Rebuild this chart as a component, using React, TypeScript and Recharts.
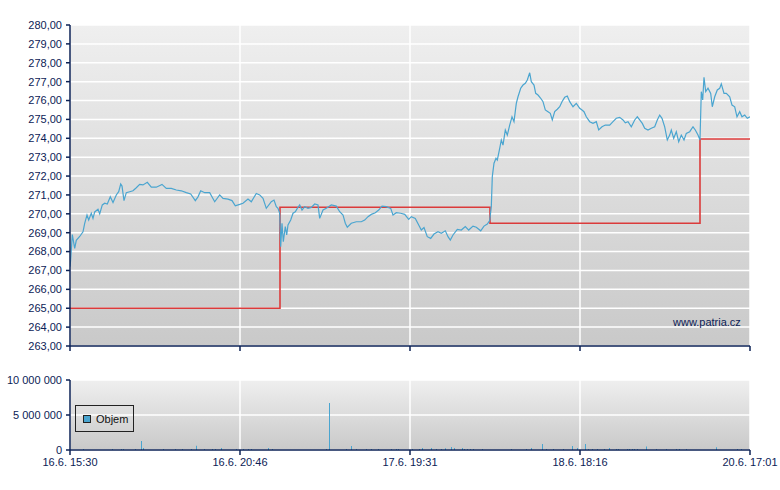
import React from 'react';
import { LineChart, Line, BarChart, Bar, XAxis, YAxis, CartesianGrid } from 'recharts';

// time position (0..680, equal spacing between labelled ticks) and price
const priceTimes = [
  0, 0.7, 2.3, 4.7, 6.3, 9.7, 13, 14.7, 17, 18.7, 21.3, 23, 24.7, 28, 29.7, 32.3, 34.7, 37.3, 40.3, 43, 46.3, 48.7, 50.7, 52, 54, 56.3, 59.7, 63, 66.3, 69.7, 73, 77.3, 81.3, 86.3, 92, 96.3, 101.3, 106.3, 111.3, 116.3, 120.7, 125.3, 128, 130.7, 134.7, 139.7, 144.7, 149.7, 153, 158, 162, 165.3, 169.7, 173,
  178, 181.3, 186.3, 189.7, 193, 196.3, 201.3, 204, 206.3, 208, 209.7, 210.7, 212, 213.3, 215.3, 216.7, 218, 220.7, 223, 225.3, 227.3, 229.7, 232, 234.7, 238, 241.3, 244.7, 248, 249.7, 253, 256.3, 261.3, 266.3, 269.7, 273, 275.3, 277.3, 281.3, 286.3, 291.3, 294.7, 298, 301.3, 305.3, 308.7, 312, 316.3, 320.7, 323, 326.3, 330.7, 334.7, 338.7, 341.3,
  345.3, 348.7, 351.3, 354, 357.3, 360.7, 364, 368, 371.3, 375.3, 378, 380.3, 383, 387.3, 391.3, 395.3, 398.7, 403, 406.3, 410.7, 414, 417.3, 419.7, 421.3, 422.3, 424, 426, 427.3, 429.7, 431.3, 433, 435.3, 437.3, 439.7, 442, 444, 446.3, 448, 450.7, 453, 455.3, 457.3, 459.7, 461.3, 464, 465.7, 468, 470.7, 473, 475.3, 478, 480.3, 482.3, 484.7, 487.3, 489.7, 492, 494.7, 497.3, 499.7, 503, 506.3, 509.7, 512,
  514, 516.3, 519.7, 523, 526.3, 528.7, 532, 535.3, 539.7, 543, 546.3, 549.7, 553, 555.3, 558, 561.3, 564.7, 567.3, 569.7, 572.3, 574.7, 578, 581.3, 584.7, 587.3, 589.7, 592, 594.7, 597.3, 599.7, 601.3, 603.7, 606.3, 608.7, 611.3, 614, 616.3, 619.7, 623, 625.3, 628, 630, 631.3, 632.7, 634, 635.7, 638, 640.7, 642.3, 644.7, 647.3, 649.7, 651.3, 654, 656.3, 659.7, 662, 664.7, 667, 669.7, 672, 674.7, 677.3, 680,
];
const priceValues = [
  267.2, 267.6, 268.9, 268.17, 268.6, 268.8, 269.05, 269.5, 269.94, 269.67, 270.03, 269.76, 270.1, 270.24, 270.0, 270.47, 270.56, 270.52, 270.9, 270.6, 271.0, 271.17, 271.58, 271.47, 270.7, 271.12, 271.17, 271.22, 271.38, 271.56, 271.53, 271.67, 271.41, 271.41, 271.56, 271.35, 271.35, 271.26, 271.22, 271.12, 271.05, 270.7, 270.9, 271.22, 271.12, 271.12, 270.64, 271.0, 270.82, 270.78, 270.7, 270.43, 270.5, 270.56,
  270.78, 270.64, 271.08, 271.0, 270.82, 270.29, 270.64, 270.73, 270.38, 270.29, 270.03, 268.26, 269.5, 268.52, 269.32, 268.88, 269.41, 269.67, 270.03, 270.11, 270.29, 270.47, 270.2, 270.38, 270.29, 270.34, 270.52, 270.47, 269.76, 270.2, 270.29, 270.47, 270.41, 270.11, 269.94, 269.5, 269.29, 269.5, 269.58, 269.58, 269.67, 269.85, 269.97, 270.06, 270.2, 270.41, 270.38, 270.29, 269.94, 270.06, 270.03, 269.97, 269.71, 269.85,
  269.76, 269.41, 269.14, 269.27, 268.79, 268.7, 268.93, 269.05, 268.97, 269.1, 268.79, 268.61, 268.88, 269.18, 269.14, 269.32, 269.14, 269.35, 269.29, 269.1, 269.35, 269.46, 269.64, 270.38, 271.97, 272.68, 272.94, 272.85, 273.47, 273.91, 273.64, 274.44, 274.17, 274.7, 275.14, 274.88, 275.85, 276.2, 276.65, 276.82, 276.91, 277.09, 277.47, 277.0, 276.82, 276.38, 276.29, 276.12, 275.94, 275.5, 275.41, 275.32, 274.97, 275.41, 275.54, 275.67, 275.94, 276.17, 276.24, 275.94, 275.67, 275.85, 275.59, 275.5,
  275.41, 275.14, 274.88, 274.79, 274.88, 274.44, 274.61, 274.7, 274.7, 274.88, 275.06, 275.11, 274.97, 274.82, 274.88, 274.61, 274.97, 275.14, 274.97, 274.79, 274.53, 274.44, 274.53, 274.61, 274.97, 275.23, 275.06, 274.61, 273.91, 274.17, 274.44, 274.0, 274.35, 273.82, 274.17, 273.91, 274.26, 274.35, 274.61, 274.44, 274.17, 273.91, 276.47, 276.03, 277.23, 276.47, 276.65, 276.38, 275.67, 276.2, 276.56, 276.65, 276.88, 276.38, 276.38, 276.2, 275.76, 275.67, 275.14, 275.41, 275.14, 275.23, 275.06, 275.14,
];

// reference price (step line)
const stepTimes = [0, 210, 420, 630, 680];
const stepValues = [265.0, 270.35, 269.5, 273.96, 273.96];

// volume
const volTimes = [
  14, 43, 52, 54, 66, 72, 74, 94, 106, 113, 122, 127, 135, 143, 146, 152, 167, 174, 179, 182, 199, 203, 257, 260, 277, 282, 287, 297, 302, 309, 322, 327, 329, 343, 350, 353, 362, 367, 372, 376, 382, 385, 393, 395, 398, 401, 404, 413, 442, 457, 462, 473, 477, 484, 494, 503, 508, 516, 519, 523, 528, 535, 540, 547, 549, 558, 560, 563, 565, 568, 577, 587, 597, 607, 610, 617, 647, 668, 672,
];
const volValues = [
  150000, 150000, 150000, 150000, 150000, 1300000, 300000, 150000, 150000, 150000, 150000, 600000, 150000, 150000, 150000, 300000, 150000, 150000, 150000, 150000, 300000, 150000, 150000, 6700000, 150000, 570000, 150000, 150000, 150000, 150000, 150000, 150000, 150000, 150000, 150000, 300000, 300000, 150000, 150000, 250000, 430000, 300000, 300000, 150000, 150000, 150000, 150000, 150000, 150000, 150000, 300000, 860000, 150000, 150000, 150000, 570000, 300000, 860000, 150000, 150000, 150000, 150000, 300000, 150000, 150000, 150000, 150000, 150000, 150000, 150000, 500000, 150000, 150000, 150000, 150000, 150000, 400000, 150000, 150000,
];

const xTicks = [0, 170, 340, 510, 680];
const xTickLabels = ['16.6. 15:30', '16.6. 20:46', '17.6. 19:31', '18.6. 18:16', '20.6. 17:01'];
const priceTicks = [263, 264, 265, 266, 267, 268, 269, 270, 271, 272, 273, 274, 275, 276, 277, 278, 279, 280];
const volTicks = [0, 5000000, 10000000];

const priceData = priceTimes.map((t, i) => ({ t, v: priceValues[i] }));
const stepData = stepTimes.map((t, i) => ({ t, v: stepValues[i] }));
const volData = volTimes.map((t, i) => ({ t, v: volValues[i] }));

const NAVY = '#0c2256';
const FONT = '"Liberation Sans", Arial, sans-serif';
const tickStyle = { fill: NAVY, fontSize: 11, fontFamily: FONT };

const fmtPrice = (v: number) => v.toFixed(2).replace('.', ',');
const fmtVol = (v: number) => String(Math.round(v)).replace(/\B(?=(\d{3})+(?!\d))/g, '\u00a0');
const fmtTime = (v: number) => {
  const i = xTicks.indexOf(v);
  return i >= 0 ? xTickLabels[i].replace(' ', '\u00a0') : '';
};

export default function App() {
  return (
    <div style={{ position: 'absolute', left: 0, top: 0, width: 780, height: 490, background: '#ffffff', fontFamily: FONT }}>
      <div style={{ position: 'absolute', left: 0, top: 0 }}>
        <LineChart width={780} height={360} margin={{ top: 25, right: 30, left: 0, bottom: 0 }}>
          <defs>
            <linearGradient id="bgTop" x1="0" y1="0" x2="0" y2="1">
              <stop offset="0%" stopColor="#efefef" />
              <stop offset="100%" stopColor="#c9c9c9" />
            </linearGradient>
          </defs>
          <CartesianGrid stroke="#ffffff" strokeWidth={1.5} fill="url(#bgTop)" fillOpacity={1} />
          <XAxis
            type="number"
            dataKey="t"
            domain={[0, 680]}
            ticks={xTicks}
            tickFormatter={() => ''}
            height={14}
            tickSize={5}
            axisLine={{ stroke: NAVY, strokeWidth: 1.5 }}
            tickLine={{ stroke: NAVY, strokeWidth: 1.5 }}
            allowDataOverflow
          />
          <YAxis
            type="number"
            domain={[263, 280]}
            ticks={priceTicks}
            tickFormatter={fmtPrice}
            width={70}
            tickSize={4}
            tickMargin={4}
            tick={tickStyle}
            axisLine={{ stroke: NAVY, strokeWidth: 1.5 }}
            tickLine={{ stroke: NAVY, strokeWidth: 1.5 }}
            interval={0}
            allowDataOverflow
          />
          <Line data={stepData} dataKey="v" type="stepAfter" stroke="#db3b3b" strokeWidth={1.6} dot={false} isAnimationActive={false} />
          <Line data={priceData} dataKey="v" type="linear" stroke="#4aa5d0" strokeWidth={1.2} dot={false} isAnimationActive={false} />
        </LineChart>
      </div>
      <div style={{ position: 'absolute', left: 673, top: 316, fontSize: 11, color: NAVY, lineHeight: '13px' }}>www.patria.cz</div>
      <div style={{ position: 'absolute', left: 0, top: 355 }}>
        <BarChart width={780} height={135} data={volData} margin={{ top: 25, right: 30, left: 0, bottom: 0 }}>
          <defs>
            <linearGradient id="bgBot" x1="0" y1="0" x2="0" y2="1">
              <stop offset="0%" stopColor="#efefef" />
              <stop offset="100%" stopColor="#c9c9c9" />
            </linearGradient>
          </defs>
          <CartesianGrid stroke="#ffffff" strokeWidth={1.5} fill="url(#bgBot)" fillOpacity={1} />
          <XAxis
            type="number"
            dataKey="t"
            domain={[0, 680]}
            ticks={xTicks}
            tickFormatter={fmtTime}
            height={40}
            tickSize={5}
            tickMargin={3}
            tick={tickStyle}
            axisLine={{ stroke: NAVY, strokeWidth: 1.5 }}
            tickLine={{ stroke: NAVY, strokeWidth: 1.5 }}
            interval={0}
            allowDataOverflow
          />
          <YAxis
            type="number"
            domain={[0, 10000000]}
            ticks={volTicks}
            tickFormatter={fmtVol}
            width={70}
            tickSize={4}
            tickMargin={4}
            tick={tickStyle}
            axisLine={{ stroke: NAVY, strokeWidth: 1.5 }}
            tickLine={{ stroke: NAVY, strokeWidth: 1.5 }}
            interval={0}
          />
          <Bar dataKey="v" fill="#4aa5d0" barSize={1} isAnimationActive={false} />
        </BarChart>
      </div>
      <div
        style={{
          position: 'absolute',
          left: 75,
          top: 405,
          width: 59,
          height: 27,
          border: '1px solid #222',
          boxSizing: 'border-box',
          display: 'flex',
          alignItems: 'center',
          fontSize: 11,
          color: '#111',
        }}
      >
        <span style={{ display: 'inline-block', width: 6, height: 6, background: '#4aa5d0', border: '1px solid #222', marginLeft: 7, marginRight: 5 }} />
        <span>Objem</span>
      </div>
    </div>
  );
}
